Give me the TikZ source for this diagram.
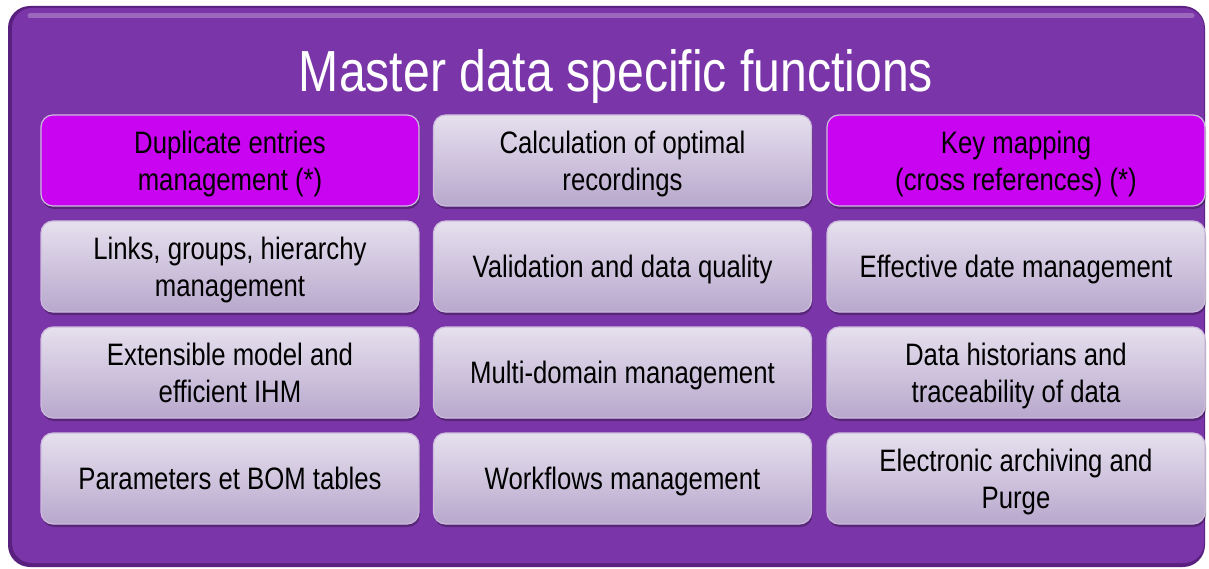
\documentclass[tikz,border=0pt]{standalone}
\usepackage{fontspec}
\setmainfont[FakeStretch=0.83]{Liberation Sans}
\usetikzlibrary{shadows}
\definecolor{bgpurple}{HTML}{7A36A8}
\definecolor{rimdark}{HTML}{5A2080}
\definecolor{pinkbox}{HTML}{C804F0}
\definecolor{graytop}{HTML}{E6E0EE}
\definecolor{graybot}{HTML}{B8A8CD}
\definecolor{boxrim}{HTML}{CDBBDD}
\tikzset{
  cell/.style={rounded corners=12pt, minimum width=378pt, minimum height=91pt,
    align=center, text=black, draw=boxrim, line width=1.2pt,
    font=\fontsize{31}{37}\selectfont, inner sep=0pt, text depth=0pt,
    drop shadow={opacity=0.35, shadow xshift=1pt, shadow yshift=-3pt, fill=black!80!bgpurple}},
  pinkcell/.style={cell, fill=pinkbox},
  graycell/.style={cell, top color=graytop, bottom color=graybot},
  titletext/.style={text=white, font=\fontsize{58}{70}\selectfont, inner sep=0pt}
}
\begin{document}
\begin{tikzpicture}[x=1pt,y=-1pt]
\useasboundingbox[fill=white] (0,0) rectangle (1209,569);
% outer panel
\fill[rimdark, rounded corners=22pt] (8,6) rectangle (1205,567);
\fill[bgpurple, rounded corners=20pt] (12,8) rectangle (1204,563);
\draw[white, opacity=0.25, line width=5pt, line cap=round] (30,16) -- (1192,16);
% title
\node[titletext, anchor=base] (title) at (616,92) {Master data specific functions};
% row 1
\node[pinkcell] (r1c1) at (230,160.5) {Duplicate entries\\management (*)};
\node[graycell] (r1c2) at (622.5,160.5) {Calculation of optimal\\recordings};
\node[pinkcell] (r1c3) at (1016,160.5) {Key mapping\\(cross references) (*)};
% row 2
\node[graycell] (r2c1) at (230,266.5) {Links, groups, hierarchy\\management};
\node[graycell] (r2c2) at (622.5,266.5) {Validation and data quality};
\node[graycell] (r2c3) at (1016,266.5) {Effective date management};
% row 3
\node[graycell] (r3c1) at (230,372.5) {Extensible model and\\efficient IHM};
\node[graycell] (r3c2) at (622.5,372.5) {Multi-domain management};
\node[graycell] (r3c3) at (1016,372.5) {Data historians and\\traceability of data};
% row 4
\node[graycell] (r4c1) at (230,478.5) {Parameters et BOM tables};
\node[graycell] (r4c2) at (622.5,478.5) {Workflows management};
\node[graycell] (r4c3) at (1016,478.5) {Electronic archiving and\\Purge};
\end{tikzpicture}
\end{document}
